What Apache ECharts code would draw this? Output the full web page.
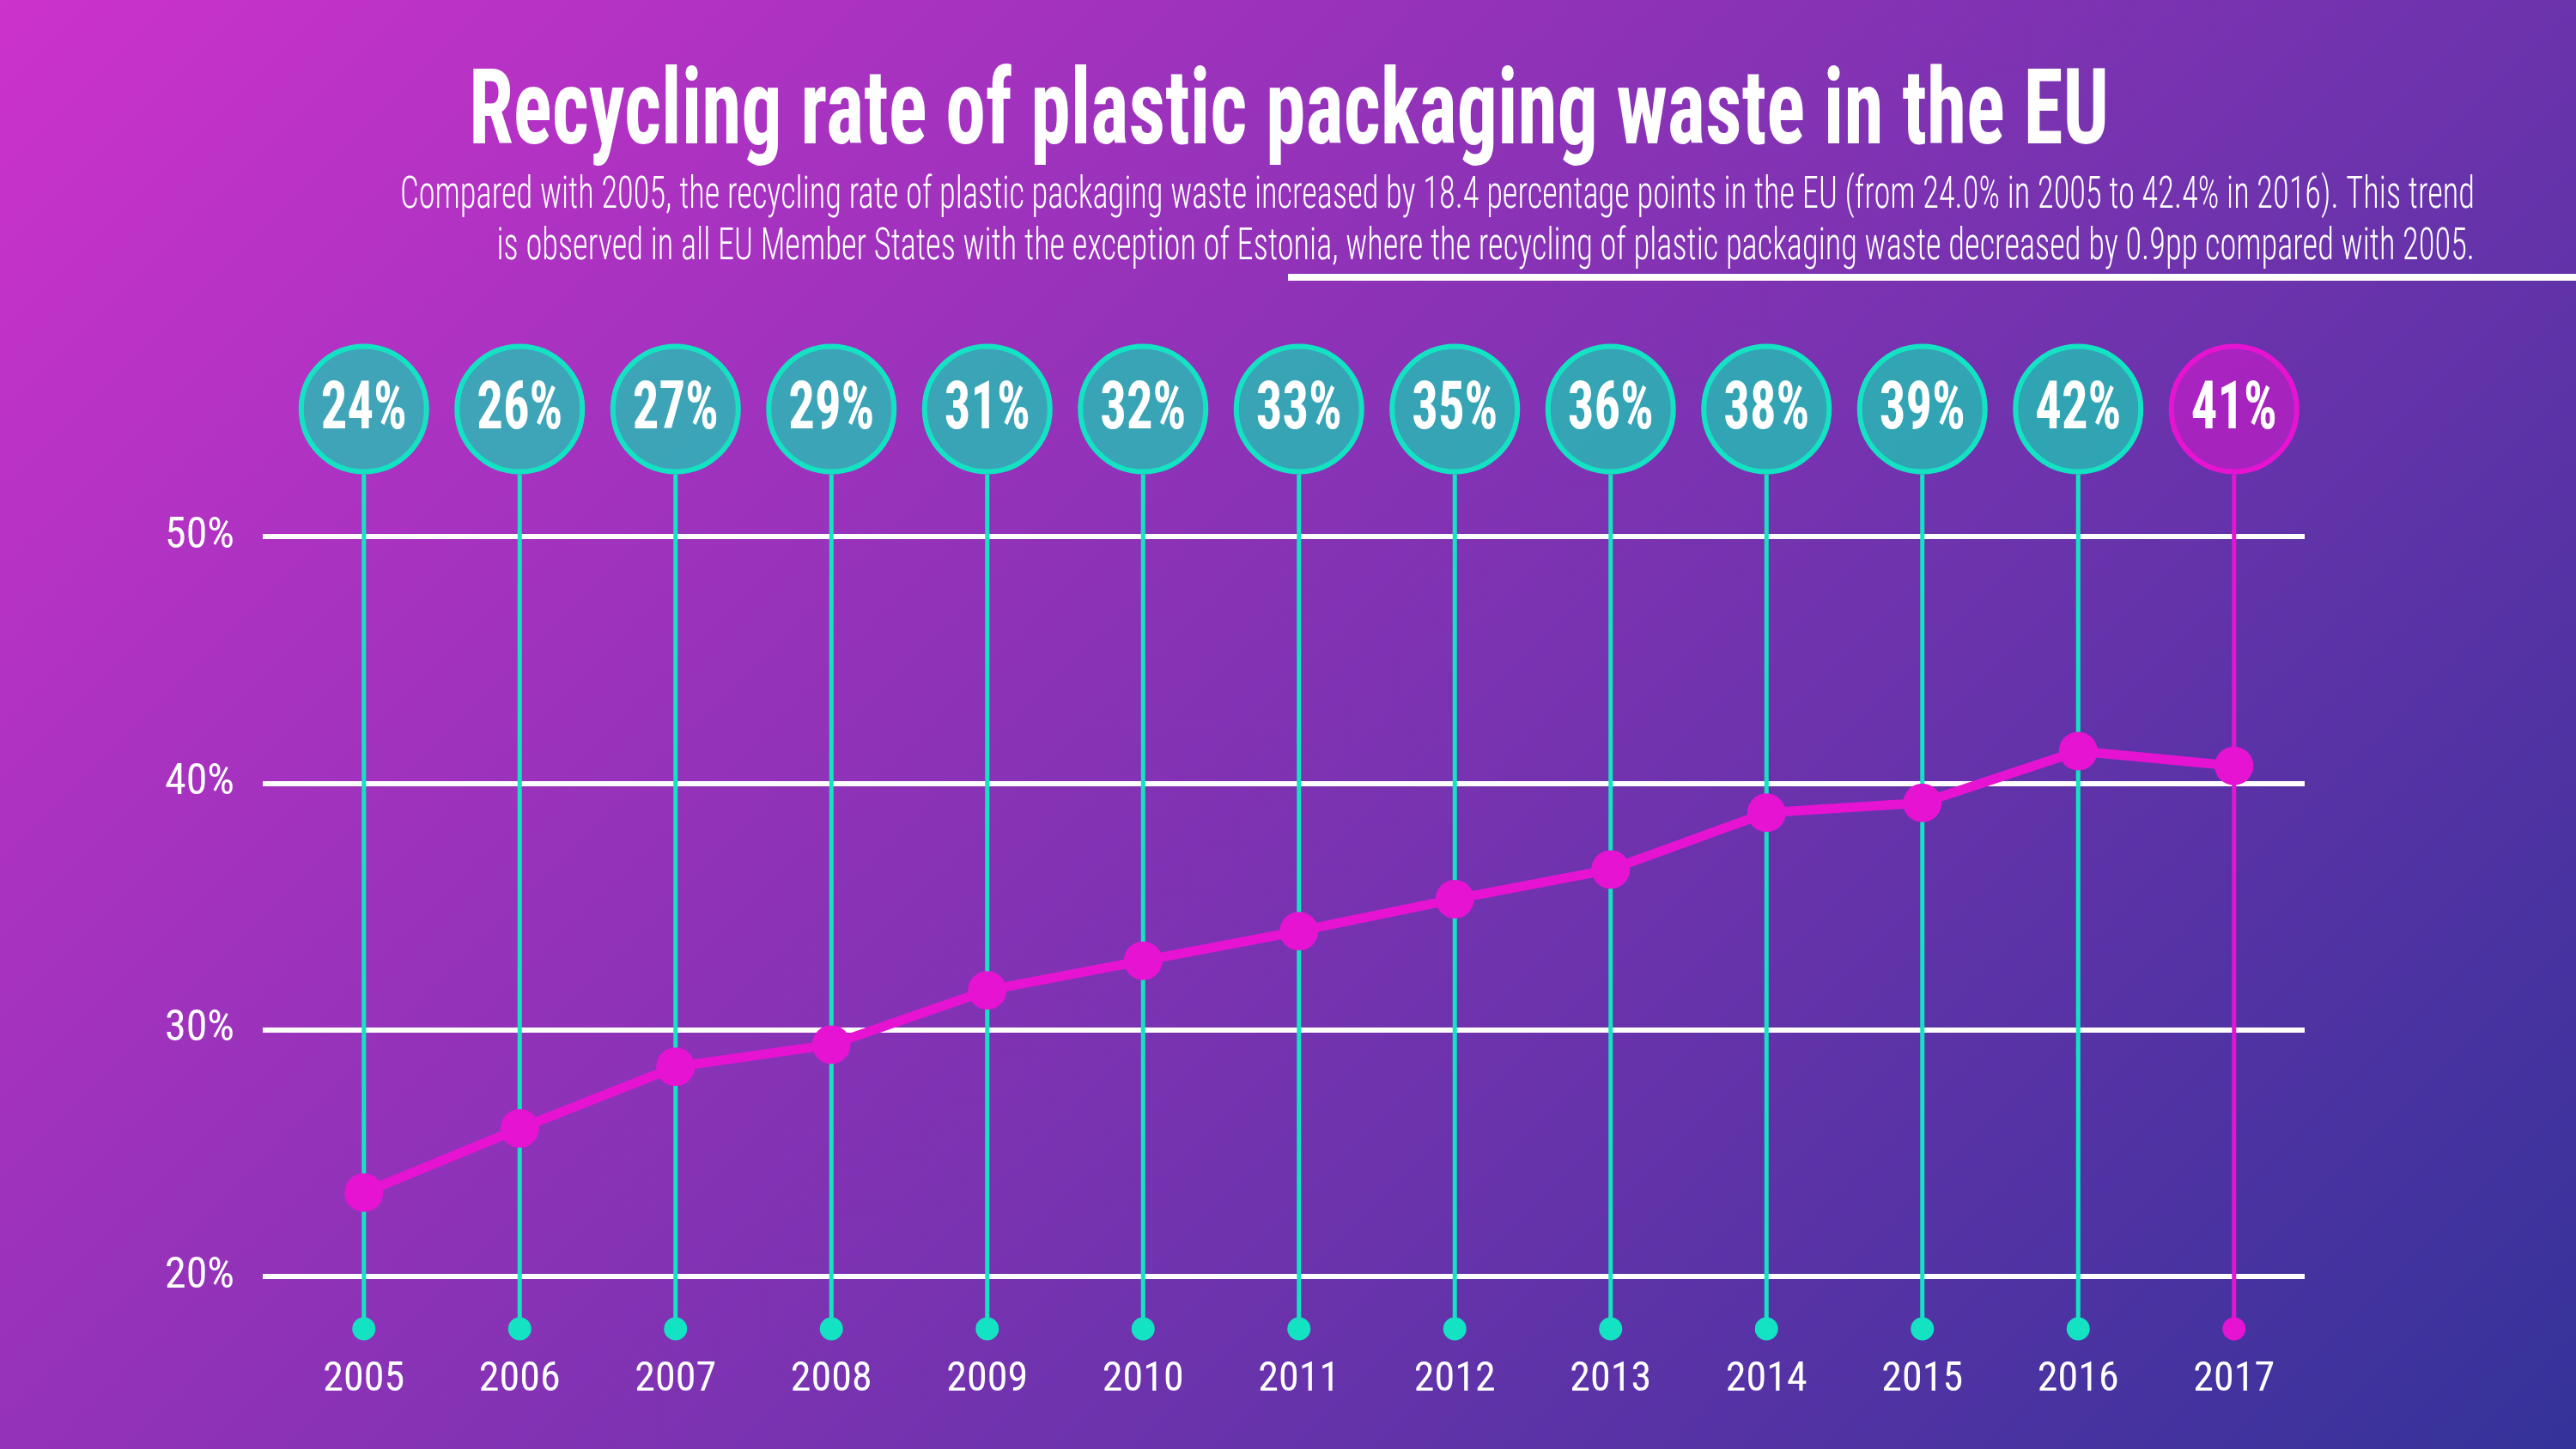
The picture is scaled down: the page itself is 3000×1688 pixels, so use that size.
<!DOCTYPE html>
<html><head><meta charset="utf-8">
<script src="https://cdn.jsdelivr.net/npm/echarts@6/dist/echarts.min.js"></script>
<style>html,body{margin:0;padding:0;overflow:hidden}#c{width:3000px;height:1688px}</style></head>
<body><div id="c"></div>
<script>
// ---- data ----
const years = ['2005','2006','2007','2008','2009','2010','2011','2012','2013','2014','2015','2016','2017'];
const lineValues = [23.4, 26.0, 28.5, 29.4, 31.6, 32.8, 34.0, 35.3, 36.5, 38.8, 39.2, 41.3, 40.7];
const bubbleLabels = ['24%','26%','27%','29%','31%','32%','33%','35%','36%','38%','39%','42%','41%'];
const yTicks = [20, 30, 40, 50];
const highlightYear = '2017';
const titleText = 'Recycling rate of plastic packaging waste in the EU';
const subtitleLines = [
  'Compared with 2005, the recycling rate of plastic packaging waste increased by 18.4 percentage points in the EU (from 24.0% in 2005 to 42.4% in 2016). This trend',
  'is observed in all EU Member States with the exception of Estonia, where the recycling of plastic packaging waste decreased by 0.9pp compared with 2005.'
];

// ---- styles ----
const FONT = '"Roboto Condensed", "Open Sans Condensed", "DejaVu Sans Condensed", sans-serif';
const TEAL = '#14E3C3';
const TEAL_FILL = 'rgba(29,200,182,0.76)';
const MAG = '#E614D2';
const MAG_FILL = 'rgba(230,20,210,0.5)';

const mctx = document.createElement('canvas').getContext('2d');
function measure(text, font) { mctx.font = font; return mctx.measureText(text).width; }

const titleFont = 'bold 122px ' + FONT;
const titleScale = 1910 / measure(titleText, titleFont);
const subFont = '300 51px ' + FONT;
const subScale = 2416 / measure(subtitleLines[0], subFont);
const bubbleFont = 'bold 77px ' + FONT;
const bubbleScale = Math.min(1, 100 / measure('24%', bubbleFont));

const chart = echarts.init(document.getElementById('c'));

const gridTop = 625, gridBottom = 1688 - 1487;

chart.setOption({
  animation: false,
  backgroundColor: {
    type: 'linear', x: 0, y: 0, x2: 0.7813, y2: 1.3886,
    colorStops: [{ offset: 0, color: '#CC32CC' }, { offset: 1, color: '#34339A' }]
  },
  grid: [
    { left: 306, right: 316, top: gridTop, bottom: gridBottom },
    { left: 333, right: 307.5, top: gridTop, bottom: gridBottom }
  ],
  xAxis: [
    { type: 'value', gridIndex: 0, show: false, min: 0, max: 1 },
    {
      type: 'category', gridIndex: 1, data: years, boundaryGap: true,
      axisLine: { show: false }, axisTick: { show: false }, splitLine: { show: false },
      axisLabel: { color: '#fff', fontFamily: FONT, fontSize: 48, margin: 97 }
    }
  ],
  yAxis: [
    {
      type: 'value', gridIndex: 0, min: yTicks[0], max: yTicks[yTicks.length - 1], interval: 10,
      axisLine: { show: false }, axisTick: { show: false },
      axisLabel: { color: '#fff', fontFamily: FONT, fontSize: 50, margin: 33, formatter: '{value}%' },
      splitLine: { show: true, lineStyle: { color: '#ffffff', width: 6 } }
    },
    {
      type: 'value', gridIndex: 1, min: yTicks[0], max: yTicks[yTicks.length - 1], interval: 10,
      show: false, splitLine: { show: false }
    }
  ],
  graphic: [
    {
      type: 'text', x: 1501, y: 136, scaleX: titleScale, z: 10,
      style: { text: titleText, font: titleFont, fill: '#fff', align: 'center', verticalAlign: 'middle' }
    },
    {
      type: 'text', x: 2882, y: 229, scaleX: subScale, z: 10,
      style: { text: subtitleLines[0], font: subFont, fill: '#fff', align: 'right', verticalAlign: 'middle' }
    },
    {
      type: 'text', x: 2882, y: 289, scaleX: subScale, z: 10,
      style: { text: subtitleLines[1], font: subFont, fill: '#fff', align: 'right', verticalAlign: 'middle' }
    },
    {
      type: 'rect', shape: { x: 1500, y: 319, width: 1500, height: 8 }, z: 10,
      style: { fill: '#fff' }
    }
  ],
  series: [
    {
      type: 'custom', xAxisIndex: 1, yAxisIndex: 1, clip: false, z: 3,
      data: years.map((y, i) => [i, lineValues[i]]),
      encode: { x: 0, y: 1 },
      renderItem: function (params, api) {
        const i = api.value(0);
        const x = api.coord([i, api.value(1)])[0];
        const cs = params.coordSys;
        const cy = cs.y - 148.5;
        const dy = cs.y + cs.height + 61;
        const hot = years[i] === highlightYear;
        const col = hot ? MAG : TEAL;
        const fill = hot ? MAG_FILL : TEAL_FILL;
        return {
          type: 'group',
          children: [
            { type: 'line', shape: { x1: x, y1: cy + 76, x2: x, y2: dy }, style: { stroke: col, lineWidth: 5 } },
            { type: 'circle', shape: { cx: x, cy: dy, r: 13.5 }, style: { fill: col } },
            { type: 'circle', shape: { cx: x, cy: cy, r: 73 }, style: { fill: fill, stroke: col, lineWidth: 6 } },
            {
              type: 'text', x: x, y: cy + 3, scaleX: bubbleScale,
              style: { text: bubbleLabels[i], font: bubbleFont, fill: '#fff', align: 'center', verticalAlign: 'middle' }
            }
          ]
        };
      }
    },
    {
      type: 'line', xAxisIndex: 1, yAxisIndex: 1, z: 5,
      data: lineValues,
      symbol: 'circle', symbolSize: 45,
      lineStyle: { color: MAG, width: 11 },
      itemStyle: { color: MAG, borderWidth: 0 },
      emphasis: { disabled: true }
    }
  ]
});
</script></body></html>
